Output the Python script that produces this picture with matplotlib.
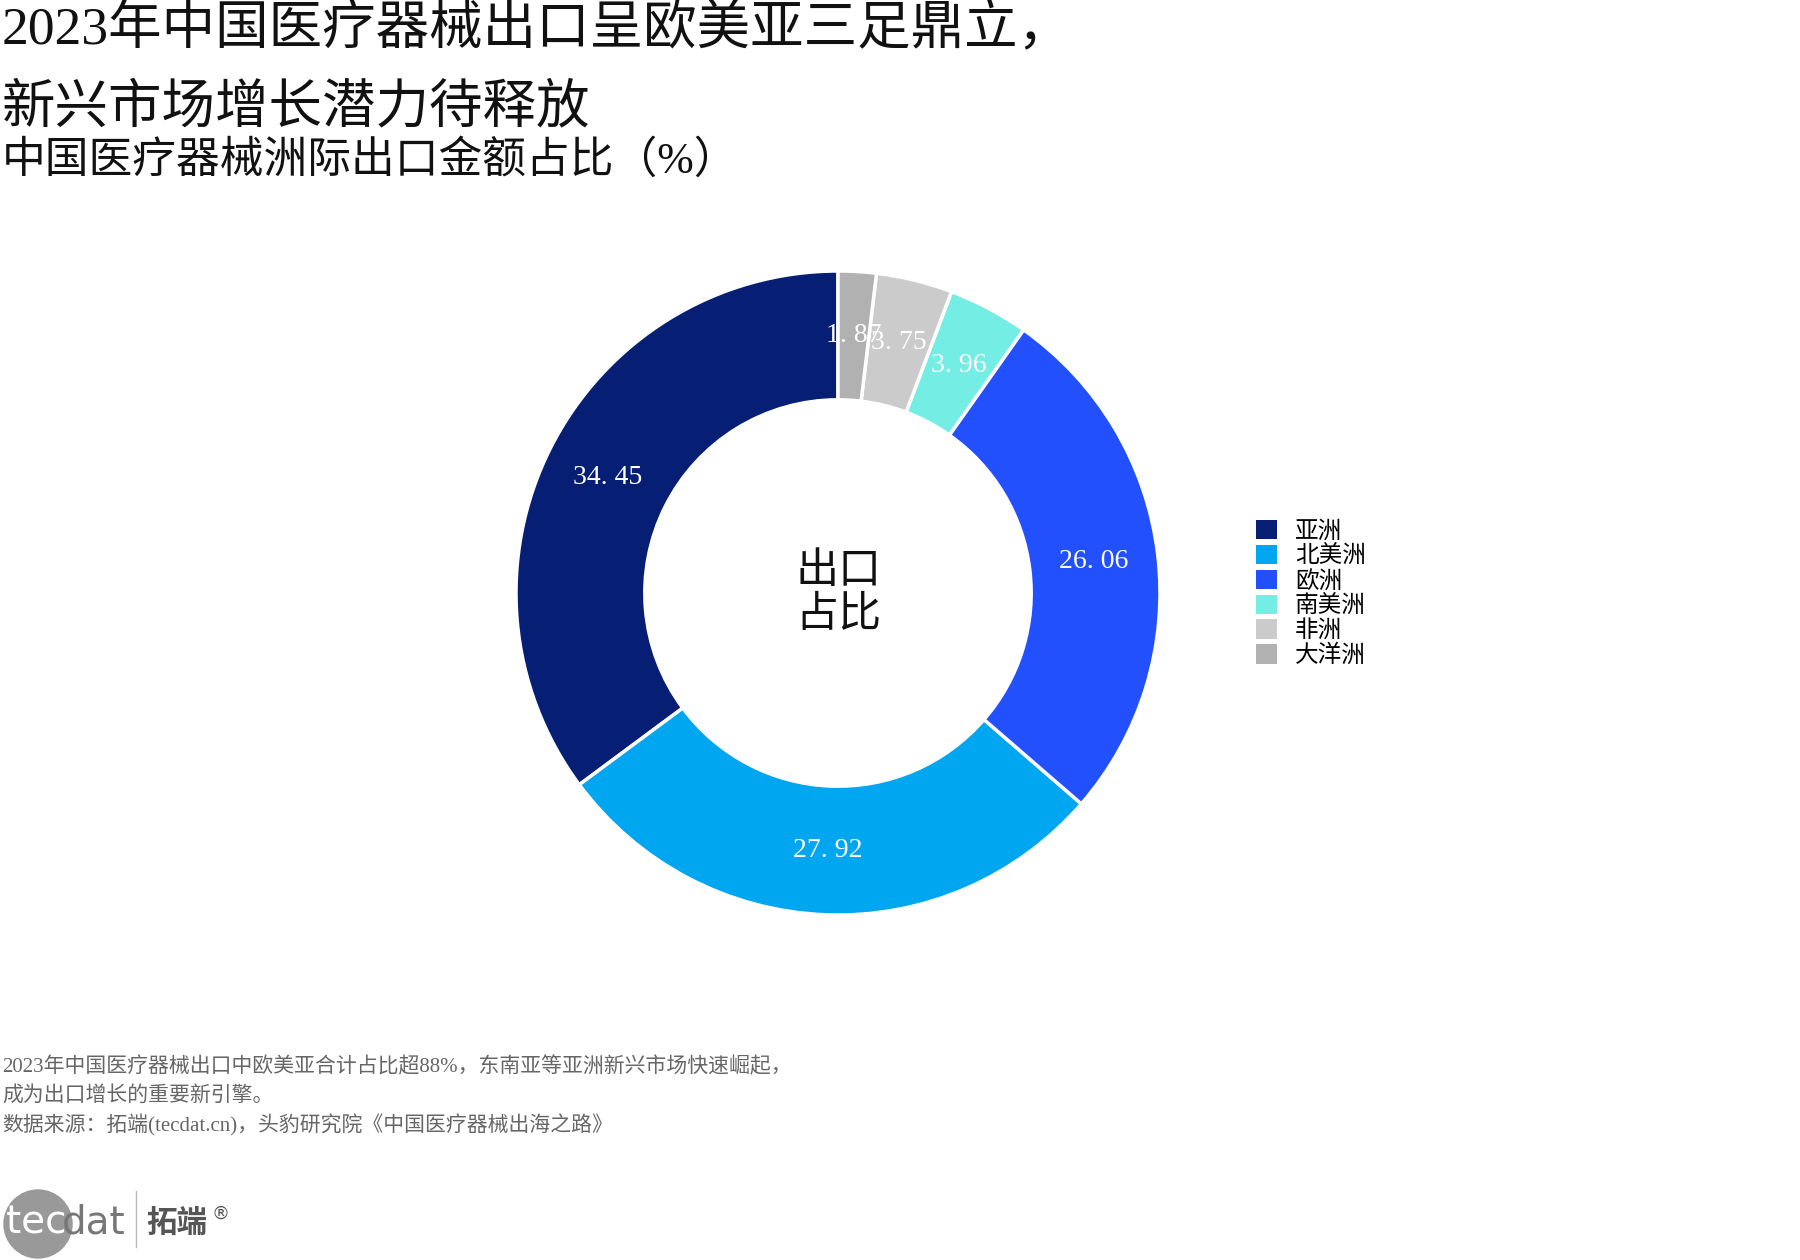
import numpy as np
import matplotlib
matplotlib.use('Agg')
from matplotlib import pyplot as plt
from matplotlib.patches import Circle, Patch

plt.rcParams['font.family'] = ['Liberation Serif', 'Noto Sans CJK SC', 'DejaVu Sans']
CJK = 'Noto Sans CJK SC'

# data (order: counterclockwise from 12 o'clock)
regions = ['亚洲', '北美洲', '欧洲', '南美洲', '非洲', '大洋洲']
shares = [34.45, 27.92, 26.06, 3.96, 3.75, 1.87]
colors = ['#061e74', '#00a6f0', '#2350fd', '#74ede4', '#cbcbcb', '#b1b1b1']

title = '2023年中国医疗器械出口呈欧美亚三足鼎立，\n新兴市场增长潜力待释放'
subtitle = '中国医疗器械洲际出口金额占比（%）'
notes = ['2023年中国医疗器械出口中欧美亚合计占比超88%，东南亚等亚洲新兴市场快速崛起，',
         '成为出口增长的重要新引擎。',
         '数据来源：拓端(tecdat.cn)，头豹研究院《中国医疗器械出海之路》']

W, H = 1800, 1260
fig = plt.figure(figsize=(W / 100, H / 100), dpi=100)

# donut
cx, cy, r = 838, 667, 322
half = r * 1.1
ax = fig.add_axes([(cx - half) / W, (cy - half) / H, 2 * half / W, 2 * half / H])
wedges, _ = ax.pie(shares, colors=colors, startangle=90, counterclock=True,
                   radius=1.0, wedgeprops=dict(width=0.4, edgecolor='white', linewidth=2.5))
ax.set_xlim(-1.1, 1.1)
ax.set_ylim(-1.1, 1.1)
ax.set_aspect('equal')

for w, v in zip(wedges, shares):
    ang = np.deg2rad((w.theta1 + w.theta2) / 2)
    ax.text(0.8 * np.cos(ang), 0.8 * np.sin(ang), f'{v:.2f}'.replace('.', '. '),
            ha='center', va='center', color='white', fontsize=20)

ax.text(0, 0, '出口\n占比', ha='center', va='center', fontsize=31,
        linespacing=1.0, color='#111111', family=CJK)

# legend
handles = [Patch(facecolor=c, edgecolor='none') for c in colors]
fig.legend(handles, regions, loc='upper left', bbox_to_anchor=(1244 / W, 1 - 508 / H),
           frameon=False, prop={'family': CJK, 'size': 17}, handlelength=0.9,
           handleheight=0.9, labelspacing=0.08, handletextpad=0.75, borderpad=0)

# titles
fig.text(2 / W, 1 - 4 / H, title, ha='left', va='top', fontsize=38.5,
         linespacing=1.72, color='#111111')
fig.text(2 / W, 1 - 140 / H, subtitle, ha='left', va='top', fontsize=31.5,
         color='#111111')

# footnotes
for i, line in enumerate(notes):
    fig.text(2 / W, 1 - (1067 + i * 29) / H, line, ha='left', va='center',
             fontsize=15, color='#666666')

# logo
lax = fig.add_axes([0, 0, 1, 1], zorder=-1)
lax.set_xlim(0, W)
lax.set_ylim(H, 0)
lax.axis('off')
lax.add_patch(Circle((38, 1224), 34, color='#999999'))
lax.text(6, 1222, 'tec', color='white', fontsize=28, va='center', ha='left',
         family='DejaVu Sans')
lax.text(62, 1222, 'dat', color='#777777', fontsize=28, va='center', ha='left',
         family='DejaVu Sans')
lax.plot([136, 136], [1191, 1247], color='#bbbbbb', lw=1)
lax.text(146, 1223, '拓端', color='#555555', fontsize=22, fontweight='bold',
         va='center', ha='left', family=CJK)
lax.text(211, 1214, '®', color='#555555', fontsize=13, va='center', ha='left',
         family='DejaVu Sans')

fig.savefig('out.png', dpi=100, facecolor='white')
